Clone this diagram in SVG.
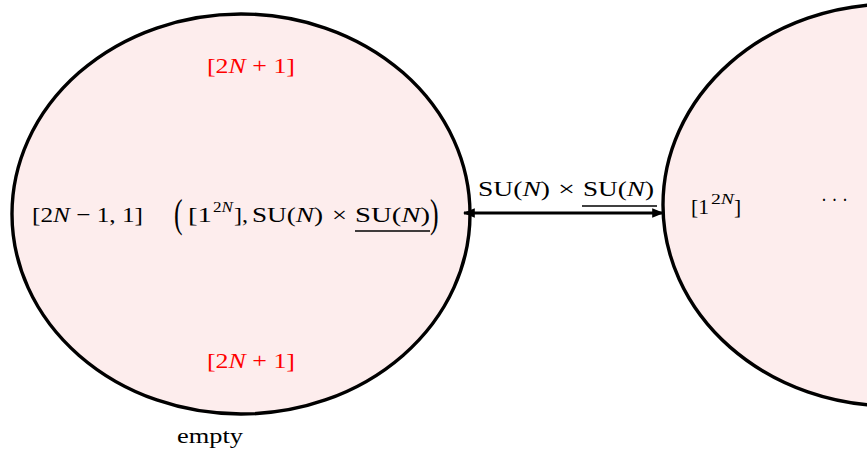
<svg xmlns="http://www.w3.org/2000/svg" width="867" height="455" viewBox="0 0 867 455">
<style>
.node{fill:#fdeded;stroke:#000;stroke-width:3.4}
.t{font-family:"Liberation Serif",serif;font-size:21.5px;fill:#000}
.red{fill:#ff0000}
.i{font-style:italic}
.sup{font-size:15px}
.edge{stroke:#000;stroke-width:3;fill:none}
.ul{stroke:#000;stroke-width:1.6}
</style>
<defs>
<marker id="ah" viewBox="0 0 10 10" refX="9" refY="5" markerWidth="4" markerHeight="4" orient="auto-start-reverse" markerUnits="strokeWidth">
<path d="M0,1 L10,5 L0,9 Z" fill="#000"/>
</marker>
</defs>
<g id="node-left">
<ellipse class="node" cx="241" cy="214" rx="229" ry="200"/>
<text class="t red" x="207" y="73" textLength="88" lengthAdjust="spacingAndGlyphs">[2<tspan class="i">N</tspan> + 1]</text>
<text class="t red" x="207" y="368" textLength="88" lengthAdjust="spacingAndGlyphs">[2<tspan class="i">N</tspan> + 1]</text>
<text class="t" x="32" y="222" textLength="111" lengthAdjust="spacingAndGlyphs">[2<tspan class="i">N</tspan> − 1, 1]</text>
<text class="t" transform="translate(174,227) scale(1.2,1.9)" font-size="26">(</text>
<text class="t" x="188" y="222" textLength="24" lengthAdjust="spacingAndGlyphs">[1</text>
<text class="t sup" x="213" y="212" textLength="20" lengthAdjust="spacingAndGlyphs">2<tspan class="i">N</tspan></text>
<text class="t" x="234" y="222" textLength="14" lengthAdjust="spacingAndGlyphs">],</text>
<text class="t" x="252" y="222" textLength="71" lengthAdjust="spacingAndGlyphs">SU(<tspan class="i">N</tspan>)</text>
<text class="t" x="332" y="222" textLength="15" lengthAdjust="spacingAndGlyphs">×</text>
<text class="t" x="355" y="222" textLength="75" lengthAdjust="spacingAndGlyphs">SU(<tspan class="i">N</tspan>)</text>
<line class="ul" x1="355" y1="231" x2="430" y2="231"/>
<text class="t" transform="translate(430,227) scale(1.2,1.9)" font-size="26">)</text>
<text class="t" x="177" y="443" textLength="66" lengthAdjust="spacingAndGlyphs">empty</text>
</g>
<g id="node-right">
<ellipse class="node" cx="892" cy="205" rx="229" ry="201"/>
<text class="t" x="691" y="214" font-size="23">[1</text>
<text class="t sup" x="711" y="204" textLength="23" lengthAdjust="spacingAndGlyphs">2<tspan class="i">N</tspan></text>
<text class="t" x="734" y="214" font-size="23">]</text>
<text class="t" x="821" y="207" textLength="27" lengthAdjust="spacingAndGlyphs">· · ·</text>
</g>
<g id="connectors">
<line class="edge" x1="464" y1="213" x2="663" y2="213" marker-start="url(#ah)" marker-end="url(#ah)"/>
<text class="t" x="478" y="196" textLength="72" lengthAdjust="spacingAndGlyphs">SU(<tspan class="i">N</tspan>)</text>
<text class="t" x="558" y="196" textLength="17" lengthAdjust="spacingAndGlyphs">×</text>
<text class="t" x="583" y="196" textLength="71" lengthAdjust="spacingAndGlyphs">SU(<tspan class="i">N</tspan>)</text>
<line class="ul" x1="582" y1="206" x2="657" y2="206"/>
</g>
</svg>
